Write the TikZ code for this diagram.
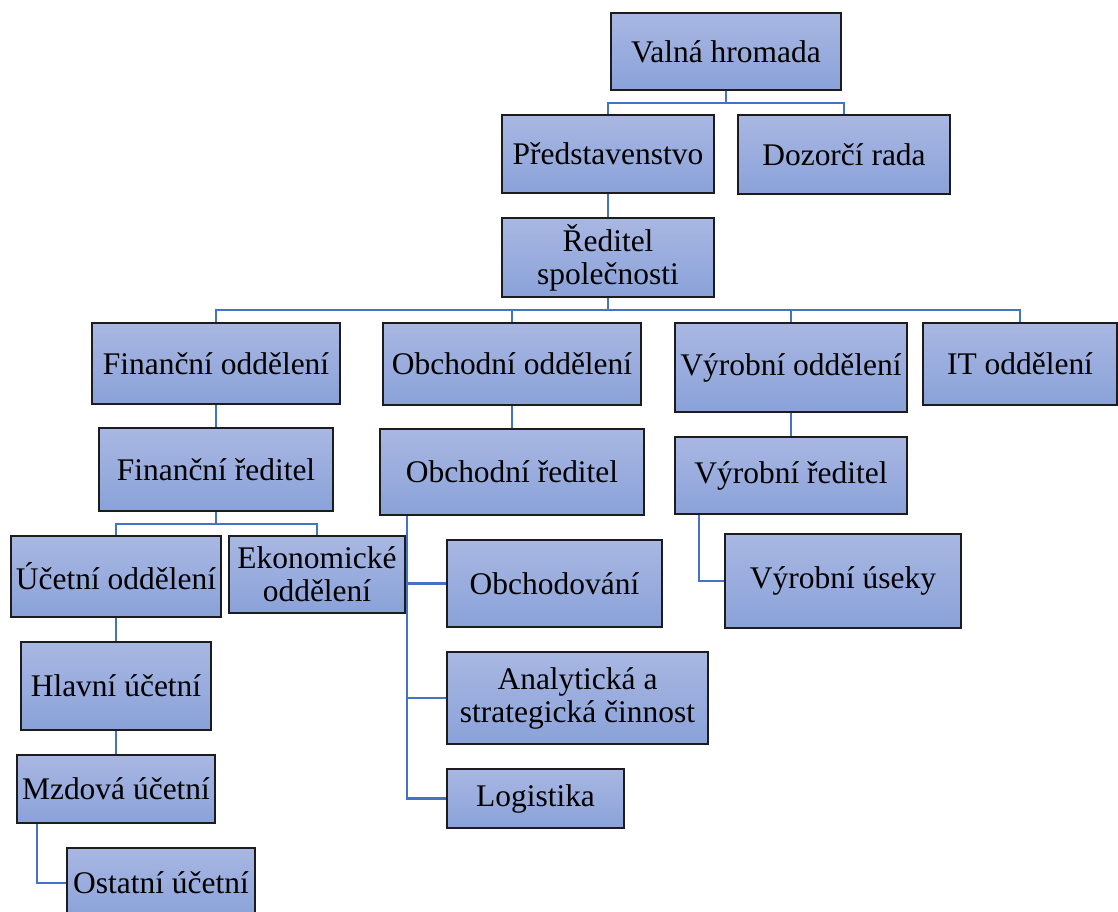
\documentclass[tikz,border=0pt]{standalone}
\usepackage{fontspec}
\setmainfont{Liberation Serif}
\usetikzlibrary{calc,backgrounds}
\definecolor{boxtop}{HTML}{A9B7E2}
\definecolor{boxbot}{HTML}{8AA2D9}
\definecolor{boxline}{HTML}{1C1C1C}
\definecolor{linkblue}{HTML}{4472C4}
\tikzset{
  box/.style={draw=boxline, line width=1.1pt, top color=boxtop, bottom color=boxbot,
    inner sep=0pt, outer sep=0pt, align=center,
    font=\fontsize{23.6}{24.8}\selectfont},
  conn/.style={draw=linkblue, line width=2.1pt}
}
% \bx{name}{x1}{y1}{x2}{y2}{text}: box given by its corners in pixel units
\newcommand\bx[6]{%
  \node[box, minimum width={(#4-#2)*0.75pt}, minimum height={(#5-#3)*0.75pt}]
    (#1) at ({(#2+#4)/2},{(#3+#5)/2}) {#6};}
\begin{document}
\begin{tikzpicture}[x=0.75pt, y=-0.75pt]
\useasboundingbox (0,0) rectangle (1118,911);
\clip (0,0) rectangle (1118,911);

% boxes
\bx{valna}{611}{13}{841}{90}{Valná hromada}
\bx{pred}{502}{115}{714}{193}{Představenstvo}
\bx{dozor}{738}{115}{950}{194}{Dozorčí rada}
\bx{reditel}{502}{218}{714}{297}{Ředitel\\společnosti}
\bx{fin}{92}{323}{340}{404}{Finanční oddělení}
\bx{obch}{383}{323}{641}{405}{Obchodní oddělení}
\bx{vyr}{675}{323}{907}{412}{Výrobní oddělení}
\bx{it}{923}{323}{1117}{405}{IT oddělení}
\bx{finr}{99}{428}{333}{511}{Finanční ředitel}
\bx{obchr}{380}{429}{644}{515}{Obchodní ředitel}
\bx{vyrr}{675}{437}{907}{514}{Výrobní ředitel}
\bx{uc}{11}{536}{221}{617}{Účetní oddělení}
\bx{ek}{229}{536}{405}{613}{Ekonomické\\oddělení}
\bx{hlavni}{21}{642}{211}{730}{Hlavní účetní}
\bx{mzd}{17}{755}{215}{823}{Mzdová účetní}
\bx{ost}{67}{848}{255}{918}{Ostatní účetní}
\bx{obchodovani}{447}{540}{662}{627}{Obchodování}
\bx{analyt}{447}{652}{708}{744}{Analytická a\\strategická činnost}
\bx{logist}{447}{769}{624}{828}{Logistika}
\bx{useky}{725}{534}{961}{628}{Výrobní úseky}

% tree connectors, kept behind the boxes
\begin{scope}[on background layer]
\draw[conn] (valna.south) -- ++(0,13) -| (pred.north);
\draw[conn] (valna.south) -- ++(0,13) -| (dozor.north);
\draw[conn] (pred.south) -- (reditel.north);
\draw[conn] (reditel.south) -- ++(0,13) -| (fin.north);
\draw[conn] (reditel.south) -- ++(0,13) -| (obch.north);
\draw[conn] (reditel.south) -- ++(0,13) -| (vyr.north);
\draw[conn] (reditel.south) -- ++(0,13) -| (it.north);
\draw[conn] (fin.south) -- (finr.north);
\draw[conn] (finr.south) -- ++(0,13) -| (uc.north);
\draw[conn] (finr.south) -- ++(0,13) -| (ek.north);
\draw[conn] (uc.south) -- (hlavni.north);
\draw[conn] (hlavni.south) -- (mzd.north);
\draw[conn] ($(mzd.south west)+(20,0)$) |- (ost.west);
\draw[conn] (obch.south) -- (obchr.north);
\draw[conn] ($(obchr.south west)+(27,0)$) |- (obchodovani.west);
\draw[conn] ($(obchr.south west)+(27,0)$) |- (analyt.west);
\draw[conn] ($(obchr.south west)+(27,0)$) |- (logist.west);
\draw[conn] (vyr.south) -- (vyrr.north);
\draw[conn] ($(vyrr.south west)+(24,0)$) |- (useky.west);
\end{scope}
\end{tikzpicture}
\end{document}
